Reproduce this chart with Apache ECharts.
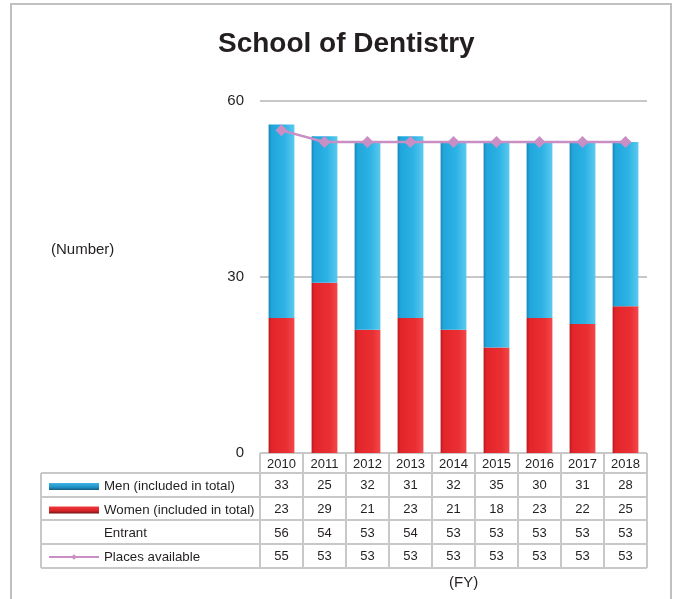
<!DOCTYPE html>
<html>
<head>
<meta charset="utf-8">
<title>School of Dentistry</title>
<script src="https://cdn.jsdelivr.net/npm/echarts@6/dist/echarts.min.js"></script>
<style>
  html, body { margin: 0; padding: 0; background: #fff; }
  #chart { width: 674px; height: 599px; }
</style>
</head>
<body>
<div id="chart"></div>
<script>
// 数据
const years = ['2010', '2011', '2012', '2013', '2014', '2015', '2016', '2017', '2018']
const men = [33, 25, 32, 31, 32, 35, 30, 31, 28]
const women = [23, 29, 21, 23, 21, 18, 23, 22, 25]
const entrant = [56, 54, 53, 54, 53, 53, 53, 53, 53]
const places = [55, 53, 53, 53, 53, 53, 53, 53, 53]
const yTicks = [0, 30, 60]

const FONT = '"Liberation Sans", Arial, sans-serif'
const GRID_LEFT = 260, GRID_RIGHT = 27, GRID_TOP = 101, GRID_BOTTOM_Y = 453
const LINE_GRAY = '#c8c8c8'
// 表格行位置
const rowLines = [473, 497, 520, 544, 568]

const chartDom = document.getElementById('chart')
const myChart = echarts.init(chartDom)

function hGrad(stops) {
    return new echarts.graphic.LinearGradient(0, 0, 1, 0, stops)
}

// 表格边框
function tableLines() {
    const els = []
    const colW = (674 - GRID_LEFT - GRID_RIGHT) / years.length
    const style = {stroke: LINE_GRAY, lineWidth: 2}
    els.push({type: 'line', shape: {x1: GRID_LEFT, y1: GRID_BOTTOM_Y, x2: 674 - GRID_RIGHT, y2: GRID_BOTTOM_Y}, style})
    rowLines.forEach(y => {
        els.push({type: 'line', shape: {x1: 41, y1: y, x2: 674 - GRID_RIGHT, y2: y}, style})
    })
    for (let k = 0; k <= years.length; k++) {
        const x = GRID_LEFT + colW * k
        els.push({type: 'line', shape: {x1: x, y1: GRID_BOTTOM_Y, x2: x, y2: 568}, style})
    }
    els.push({type: 'line', shape: {x1: 41, y1: 473, x2: 41, y2: 568}, style})
    return els
}

const option = {
    animation: false,
    textStyle: {fontFamily: FONT},
    title: {
        text: 'School of Dentistry',
        left: 213,
        top: 25,
        textStyle: {fontSize: 28, fontWeight: 'bold', color: '#231f20', fontFamily: FONT}
    },
    legend: {
        orient: 'vertical',
        left: 48,
        top: 474.8,
        padding: 0,
        itemGap: 0,
        itemWidth: 50,
        itemHeight: 7,
        itemTextGap: 5,
        selectedMode: false,
        textStyle: {fontSize: 13.3, color: '#231f20', lineHeight: 23.5, fontFamily: FONT},
        data: [
            {name: 'Men (included in total)', icon: 'rect',
                itemStyle: {color: new echarts.graphic.LinearGradient(0, 0, 0, 1, [
                    {offset: 0, color: '#3fb3e3'}, {offset: 0.6, color: '#1e8fc4'}, {offset: 1, color: '#17587a'}])}},
            {name: 'Women (included in total)', icon: 'rect',
                itemStyle: {color: new echarts.graphic.LinearGradient(0, 0, 0, 1, [
                    {offset: 0, color: '#f0393c'}, {offset: 0.6, color: '#d82327'}, {offset: 1, color: '#6e1416'}])}},
            {name: 'Entrant', icon: 'rect', itemStyle: {color: 'rgba(0,0,0,0)'}},
            {name: 'Places available'}
        ]
    },
    grid: {
        left: GRID_LEFT,
        right: GRID_RIGHT,
        top: GRID_TOP,
        height: GRID_BOTTOM_Y - GRID_TOP
    },
    xAxis: {
        type: 'category',
        data: years,
        axisLine: {show: false},
        axisTick: {show: false},
        axisLabel: {
            margin: 1,
            interval: 0,
            verticalAlign: 'top',
            formatter: function (v, i) {
                return '{y|' + v + '}\n{n|' + men[i] + '}\n{n|' + women[i] + '}\n{n|' + entrant[i] + '}\n{n|' + places[i] + '}'
            },
            rich: {
                y: {fontSize: 13, lineHeight: 20, color: '#231f20', fontFamily: FONT},
                n: {fontSize: 13, lineHeight: 23.6, color: '#231f20', fontFamily: FONT}
            }
        }
    },
    yAxis: {
        type: 'value',
        min: yTicks[0],
        max: yTicks[yTicks.length - 1],
        interval: yTicks[1] - yTicks[0],
        axisLine: {show: false},
        axisTick: {show: false},
        axisLabel: {margin: 16, fontSize: 15, color: '#231f20', fontFamily: FONT},
        splitLine: {
            lineStyle: {color: '#b5b5b5', width: 1.5},
            showMinLine: false
        }
    },
    series: [
        {
            name: 'Women (included in total)',
            type: 'bar',
            stack: 'total',
            barWidth: '60%',
            data: women,
            itemStyle: {
                color: hGrad([
                    {offset: 0, color: '#b81a1e'},
                    {offset: 0.12, color: '#e3252a'},
                    {offset: 0.7, color: '#ea2f33'},
                    {offset: 1, color: '#f2484b'}
                ])
            }
        },
        {
            name: 'Men (included in total)',
            type: 'bar',
            stack: 'total',
            barWidth: '60%',
            data: men,
            itemStyle: {
                color: hGrad([
                    {offset: 0, color: '#1a86b9'},
                    {offset: 0.12, color: '#21a6dc'},
                    {offset: 0.6, color: '#2db2e5'},
                    {offset: 1, color: '#5ac9ee'}
                ])
            }
        },
        {
            name: 'Entrant',
            type: 'line',
            data: entrant,
            symbol: 'none',
            silent: true,
            lineStyle: {opacity: 0},
            itemStyle: {color: 'rgba(0,0,0,0)'}
        },
        {
            name: 'Places available',
            type: 'line',
            data: places,
            symbol: 'diamond',
            symbolSize: 12,
            z: 5,
            lineStyle: {color: '#c98fc4', width: 2.5},
            itemStyle: {color: '#c98fc4'}
        }
    ],
    graphic: [
        {
            type: 'rect',
            shape: {x: 11, y: 4, width: 660, height: 640},
            style: {fill: 'none', stroke: '#c0c0c0', lineWidth: 2},
            silent: true
        },
        {
            type: 'text',
            left: 51,
            top: 242,
            style: {text: '(Number)', fontSize: 15, fill: '#231f20', fontFamily: FONT}
        },
        {
            type: 'text',
            left: 449,
            top: 575,
            style: {text: '(FY)', fontSize: 15, fill: '#231f20', fontFamily: FONT}
        }
    ].concat(tableLines())
}

myChart.setOption(option)
</script>
</body>
</html>
